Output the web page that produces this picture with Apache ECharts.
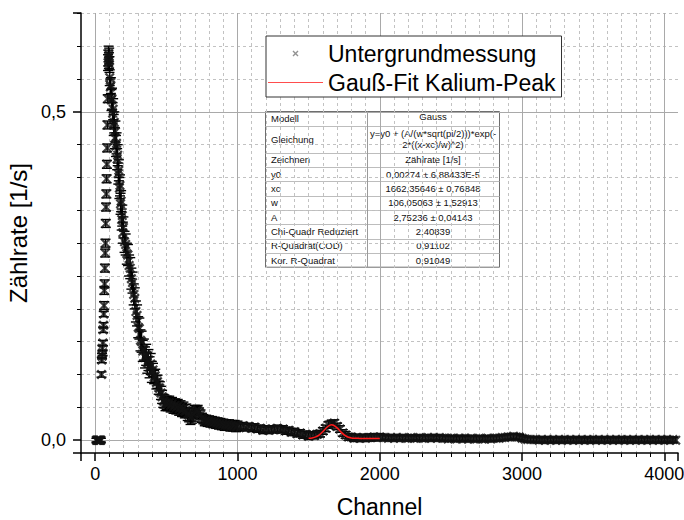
<!DOCTYPE html>
<html><head><meta charset="utf-8">
<script src="https://cdn.jsdelivr.net/npm/echarts@6/dist/echarts.min.js"></script>
<style>html,body{margin:0;padding:0;background:#fff}#c{width:684px;height:520px}</style>
</head><body><div id="c"></div>
<script>
// ---- measured data (Untergrundmessung) ----
const channels = [
  8,12,16,20,24,28,32,36,40,
  44,46,48,50,52,54,56,58,60,62,64,66,68,70,72,74,76,78,80,82,84,86,88,
  90,92,94,96,98,100,
  102,106,110,114,118,122,126,130,134,138,142,146,150,154,158,162,166,170,174,178,182,186,190,194,198,
  206,214,222,230,238,246,254,262,270,278,286,294,302,310,318,326,334,342,350,358,366,374,382,390,398,406,414,422,430,438,446,454,462,470,478,486,494,502,
  510,520,530,540,550,560,570,580,590,600,610,620,630,640,650,660,670,680,690,700,
  710,720,730,740,750,760,770,780,790,800,810,820,830,840,850,860,870,880,890,900,
  910,920,930,940,950,960,970,980,990,1000,
  1020,1040,1060,1080,1100,1120,1140,1160,1180,1200,
  1220,1240,1260,1280,1300,1320,1340,1360,1380,1400,
  1420,1440,1460,1480,1500,1520,1540,1560,1580,1600,
  1620,1640,1660,1680,1700,1720,1740,1760,1780,1800,
  1820,1840,1860,1880,1900,1920,1940,1960,1980,2000,
  2020,2040,2060,2080,2100,2120,2140,2160,2180,2200,
  2220,2240,2260,2280,2300,2320,2340,2360,2380,2400,
  2420,2440,2460,2480,2500,2520,2540,2560,2580,2600,
  2620,2640,2660,2680,2700,2720,2740,2760,2780,2800,
  2820,2840,2860,2880,2900,2920,2940,2960,2980,3000,
  3020,3040,3060,3080,3100,3120,3140,3160,3180,3200,
  3220,3240,3260,3280,3300,3320,3340,3360,3380,3400,
  3420,3440,3460,3480,3500,3520,3540,3560,3580,3600,
  3620,3640,3660,3680,3700,3720,3740,3760,3780,3800,
  3820,3840,3860,3880,3900,3920,3940,3960,3980,4000,
  4020,4040,4060,4080
];
const rates = [
  0,0,0,0,0,0,0,0,0,
  0.100,0.122,0.128,0.140,0.133,0.148,0.168,0.175,0.192,0.205,0.228,0.238,0.262,0.285,0.300,0.330,0.355,0.375,0.398,0.420,0.445,0.480,0.520,
  0.575,0.582,0.588,0.578,0.585,0.572,
  0.552,0.538,0.540,0.518,0.520,0.498,0.504,0.480,0.484,0.460,0.470,0.448,0.452,0.428,0.434,0.406,0.411,0.384,0.388,0.360,0.364,0.336,0.342,0.316,0.324,
  0.302,0.298,0.284,0.282,0.266,0.262,0.246,0.240,0.222,0.216,0.196,0.190,0.172,0.170,0.152,0.150,0.136,0.138,0.126,0.130,0.118,0.122,0.111,0.116,0.104,0.107,0.096,0.098,0.088,0.089,0.080,0.079,0.072,0.066,0.060,0.059,0.055,0.057,
  0.055,0.057,0.053,0.055,0.051,0.053,0.050,0.052,0.048,0.050,0.046,0.048,0.044,0.045,0.040,0.038,0.034,0.036,0.039,0.043,
  0.044,0.046,0.042,0.039,0.034,0.032,0.029,0.031,0.028,0.030,0.027,0.029,0.026,0.028,0.025,0.027,0.024,0.026,0.023,0.025,
  0.022,0.024,0.022,0.024,0.021,0.023,0.021,0.023,0.020,0.022,
  0.020,0.022,0.019,0.021,0.018,0.020,0.017,0.018,0.015,0.017,
  0.015,0.017,0.016,0.018,0.016,0.017,0.014,0.015,0.012,0.013,
  0.010,0.011,0.008,0.009,0.006,0.008,0.007,0.009,0.010,0.014,
  0.018,0.023,0.025,0.026,0.021,0.017,0.011,0.008,0.005,0.005,
  0.003,0.004,0.003,0.004,0.003,0.004,0.004,0.005,0.004,0.005,
  0.004,0.004,0.003,0.004,0.003,0.004,0.003,0.004,0.003,0.003,
  0.004,0.003,0.003,0.004,0.003,0.003,0.004,0.003,0.004,0.003,
  0.004,0.003,0.003,0.002,0.003,0.003,0.002,0.003,0.002,0.003,
  0.002,0.003,0.002,0.002,0.003,0.002,0.002,0.003,0.002,0.003,
  0.003,0.003,0.004,0.004,0.005,0.005,0.006,0.005,0.005,0.003,
  0.002,0.001,0.001,0.001,0.001,0.000,0.001,0.000,0.001,0.000,
  0.001,0.000,0.001,0.000,0.001,0.000,0.001,0.000,0.001,0.000,
  0.001,0.000,0.001,0.000,0.001,0.000,0.001,0.000,0.001,0.000,
  0.001,0.000,0.001,0.000,0.001,0.000,0.001,0.000,0.001,0.000,
  0.001,0.000,0.001,0.000,0.001,0.000,0.001,0.000,0.001,0.000,
  0.001,0.000,0.001,0.000
];
// error-bar half heights read per channel range: [fromChannel, toChannel, error]
const errorBands = [
  [0, 42, 0.003], [43, 60, 0.004], [61, 88, 0.006], [89, 110, 0.012],
  [111, 400, 0.016], [401, 700, 0.010], [701, 1000, 0.007], [1001, 2000, 0.005], [2001, 4096, 0.004]
];
// ---- Gauss fit (Kalium peak) ----
const fitChannels = [1500,1525,1550,1575,1600,1625,1650,1662,1675,1700,1725,1750,1775,1800,1825,1850,1875,1900,1950,2000];
const fitRates = [0.0029,0.0035,0.0050,0.0081,0.0132,0.0190,0.0229,0.0234,0.0228,0.0188,0.0130,0.0080,0.0049,0.0034,0.0029,0.0028,0.0027,0.0027,0.0027,0.0027];
// ---- ticks ----
const xTicks = [0, 1000, 2000, 3000, 4000];
const yTicks = [0, 0.5];
// ---- fit table ----
const tableLabels = ['Modell','Gleichung','Zeichnen','y0','xc','w','A','Chi-Quadr Reduziert','R-Quadrat(COD)','Kor. R-Quadrat'];
const tableValues = ['Gauss','y=y0 + (A/(w*sqrt(pi/2)))*exp(-\n2*((x-xc)/w)^2)','Zählrate [1/s]','0,00274 ± 6,88433E-5','1662,35646 ± 0,76848','106,05063 ± 1,52913','2,75236 ± 0,04143','2,40839','0,91102','0,91049'];
const seriesNames = ['Untergrundmessung', 'Gauß-Fit Kalium-Peak'];

const F = '"Liberation Sans", Arial, sans-serif';
const X_PATH = 'path://M0,1.6L1.6,0L5,3.4L8.4,0L10,1.6L6.6,5L10,8.4L8.4,10L5,6.6L1.6,10L0,8.4L3.4,5Z';
const LINE_ICON = 'path://M0,0L100,0L100,2.2L0,2.2Z';

function errFor(ch) {
  for (const b of errorBands) if (ch >= b[0] && ch <= b[1]) return b[2];
  return 0;
}
const measured = channels.map((c, i) => [c, rates[i], errFor(c)]);
const fitData = fitChannels.map((c, i) => [c, fitRates[i]]);

// table graphic
const rowH = [14.3, 27, 14.3, 14.3, 14.3, 14.3, 14.3, 14.3, 14.3, 14.3];
const tW = 234, colX = 102;
const tTotal = rowH.reduce((a, b) => a + b, 0);
const tableChildren = [];
tableChildren.push({type: 'rect', shape: {x: 0.5, y: 0.5, width: tW, height: tTotal}, style: {fill: '#fff', stroke: '#6e6e6e', lineWidth: 1}});
let ty = 0.5;
tableLabels.forEach((lab, i) => {
  const h = rowH[i];
  if (i > 0) tableChildren.push({type: 'line', shape: {x1: 0.5, y1: Math.round(ty) + 0.5, x2: tW + 0.5, y2: Math.round(ty) + 0.5}, style: {stroke: '#bdbdbd', lineWidth: 1}});
  tableChildren.push({type: 'text', x: 6, y: ty + h / 2, style: {text: lab, fontSize: 9.5, fontFamily: F, fill: '#111', align: 'left', verticalAlign: 'middle'}});
  tableChildren.push({type: 'text', x: (colX + tW) / 2, y: ty + h / 2 - (i === 0 ? 2 : 0), style: {text: tableValues[i], fontSize: 9.5, fontFamily: F, fill: '#111', align: 'center', verticalAlign: 'middle', lineHeight: 11}});
  ty += h;
});
tableChildren.push({type: 'line', shape: {x1: colX + 0.5, y1: 0.5, x2: colX + 0.5, y2: tTotal + 0.5}, style: {stroke: '#9a9a9a', lineWidth: 1}});

const chart = echarts.init(document.getElementById('c'), null, {renderer: 'svg'});
chart.setOption({
  animation: false,
  backgroundColor: '#fff',
  grid: {left: 81, right: 6, top: 13, bottom: 67, containLabel: false, outerBoundsMode: 'none'},
  legend: {
    orient: 'vertical', left: 266, top: 36,
    padding: [6, 6, 3, 2], itemGap: 6, itemWidth: 55, itemHeight: 6,
    backgroundColor: '#fff', borderColor: '#333', borderWidth: 1, borderRadius: 0,
    selectedMode: false,
    textStyle: {fontSize: 23, color: '#000', fontFamily: F},
    data: [
      {name: seriesNames[0], icon: X_PATH, itemStyle: {color: '#777'}},
      {name: seriesNames[1], icon: LINE_ICON, itemStyle: {color: '#ff4d4d'}}
    ]
  },
  xAxis: {
    type: 'value', min: -100, max: 4096, splitNumber: 5, minInterval: 1000, maxInterval: 1000,
    name: 'Channel', nameLocation: 'middle', nameGap: 42,
    nameTextStyle: {fontSize: 23, color: '#000', fontFamily: F},
    axisLine: {show: true, onZero: false, lineStyle: {color: '#000', width: 1.5}},
    axisTick: {show: true, inside: false, length: 8, lineStyle: {color: '#000', width: 1.5}},
    minorTick: {show: true, splitNumber: 10, length: 4, lineStyle: {color: '#000', width: 1}},
    axisLabel: {margin: 12, fontSize: 18, color: '#000', fontFamily: F, showMinLabel: false, showMaxLabel: false,
      formatter: v => xTicks.indexOf(v) >= 0 ? String(v) : ''},
    splitLine: {show: true, showMinLine: false, showMaxLine: false, lineStyle: {color: '#a9a9a9', width: 1}},
    minorSplitLine: {show: true, lineStyle: {color: '#c2c2c2', width: 1, type: [3, 3]}}
  },
  yAxis: {
    type: 'value', min: -0.0195, max: 0.6505, splitNumber: 1, minInterval: 0.5, maxInterval: 0.5,
    name: 'Zählrate [1/s]', nameLocation: 'middle', nameGap: 45, nameRotate: 90,
    nameTextStyle: {fontSize: 24, color: '#000', fontFamily: F},
    axisLine: {show: true, onZero: false, lineStyle: {color: '#000', width: 1.5}},
    axisTick: {show: true, inside: false, length: 8, lineStyle: {color: '#000', width: 1.5}},
    minorTick: {show: true, splitNumber: 10, length: 4, lineStyle: {color: '#000', width: 1}},
    axisLabel: {margin: 15, fontSize: 18, color: '#000', fontFamily: F, showMinLabel: false, showMaxLabel: false,
      formatter: v => yTicks.some(t => Math.abs(t - v) < 1e-9) ? v.toFixed(1).replace('.', ',') : ''},
    splitLine: {show: true, showMinLine: false, showMaxLine: false, lineStyle: {color: '#a9a9a9', width: 1}},
    minorSplitLine: {show: true, lineStyle: {color: '#c2c2c2', width: 1, type: [3, 3]}}
  },
  series: [
    {
      type: 'custom', name: 'errors', silent: true, z: 2, clip: true,
      data: measured, encode: {x: 0, y: 1},
      renderItem: function (params, api) {
        const c = api.value(0), v = api.value(1), e = api.value(2);
        const p1 = api.coord([c, v + e]), p2 = api.coord([c, v - e]);
        const h = 5;
        const st = {stroke: '#000', lineWidth: 1.4};
        return {type: 'group', children: [
          {type: 'line', shape: {x1: p1[0], y1: p1[1], x2: p2[0], y2: p2[1]}, style: st},
          {type: 'line', shape: {x1: p1[0] - h, y1: p1[1], x2: p1[0] + h, y2: p1[1]}, style: st},
          {type: 'line', shape: {x1: p2[0] - h, y1: p2[1], x2: p2[0] + h, y2: p2[1]}, style: st}
        ]};
      }
    },
    {
      type: 'scatter', name: seriesNames[0], z: 3, silent: true,
      data: measured.map(d => [d[0], d[1]]),
      symbol: X_PATH, symbolSize: 10,
      itemStyle: {color: '#111'}
    },
    {
      type: 'line', name: seriesNames[1], z: 4, silent: true,
      data: fitData, smooth: 0.3, symbol: 'none', showSymbol: false,
      lineStyle: {color: '#ff1a1a', width: 1.5},
      itemStyle: {color: '#ff1a1a'}
    }
  ],
  graphic: [{type: 'group', x: 265, y: 111, z: 100, children: tableChildren}]
});
</script>
</body></html>
